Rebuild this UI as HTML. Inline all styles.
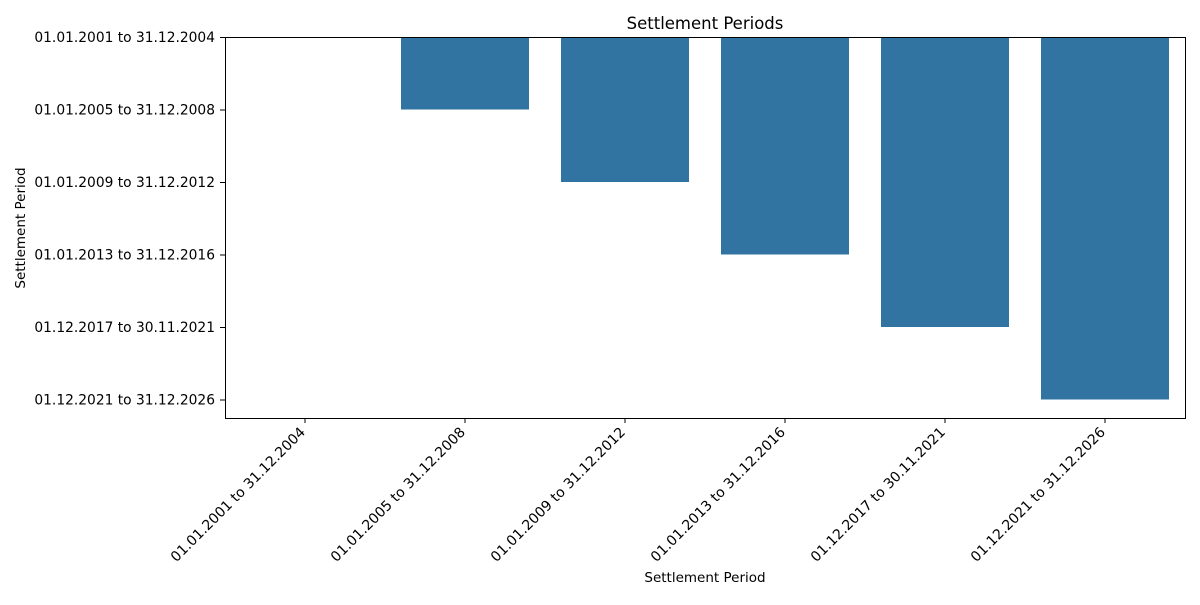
<!DOCTYPE html>
<html><head><meta charset="utf-8"><style>
body{margin:0;background:#fff}
svg text{font-family:"DejaVu Sans","Liberation Sans",sans-serif;fill:#000}
</style></head><body>
<svg width="1200" height="600" id="chart">
<rect width="1200" height="600" fill="#fff"/>
<text x="705" y="29" font-size="16.5" text-anchor="middle">Settlement Periods</text>
<text x="705" y="582" font-size="13.5" text-anchor="middle">Settlement Period</text>
<text transform="translate(25,228) rotate(-90)" font-size="13.5" text-anchor="middle">Settlement Period</text>
<g id="bars"></g><g id="xticks"></g><g id="yticks"></g>
<rect x="225.5" y="37.5" width="960" height="381" fill="none" stroke="#000" stroke-width="1"/>
</svg>
<script>
const categories=["01.01.2001 to 31.12.2004","01.01.2005 to 31.12.2008","01.01.2009 to 31.12.2012","01.01.2013 to 31.12.2016","01.12.2017 to 30.11.2021","01.12.2021 to 31.12.2026"];
const values=[0,1,2,3,4,5];
const yLabels=categories;
const NS="http://www.w3.org/2000/svg";
function xPos(i){return 305+i*160;}
function yPos(v){return 37+v*72.5;}
function mk(t,a,p){const e=document.createElementNS(NS,t);for(const k in a)e.setAttribute(k,a[k]);p.appendChild(e);return e;}
const bars=document.getElementById('bars'),xt=document.getElementById('xticks'),yt=document.getElementById('yticks');
values.forEach((v,i)=>{
 const b=mk('rect',{x:xPos(i)-64,y:yPos(0),width:128,height:yPos(v)-yPos(0),fill:'#3274a1'},bars);
 
 
});
categories.forEach((c,i)=>{
 const x=xPos(i);
 const l=mk('line',{x1:x,x2:x,y1:418,y2:423,stroke:'#000'},xt);
 
 
 const t=mk('text',{x:0,y:0,'font-size':14,'text-anchor':'end',transform:`translate(${x+1},${433}) rotate(-45)`},xt);
 t.textContent=c;
 
 
});
yLabels.forEach((c,i)=>{
 const y=yPos(i);
 const l=mk('line',{x1:220,x2:225,y1:y+0.5,y2:y+0.5,stroke:'#000'},yt);
 
 
 const t=mk('text',{x:215,y:y+5,'font-size':13.8,'text-anchor':'end'},yt);
 t.textContent=c;
 
 
});
</script>
</body></html>
